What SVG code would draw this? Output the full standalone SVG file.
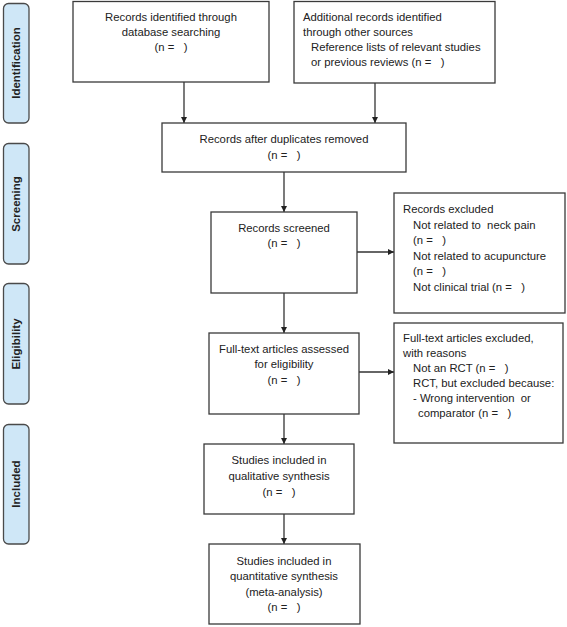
<svg xmlns="http://www.w3.org/2000/svg" width="567" height="627" viewBox="0 0 567 627">
<style>
.box{fill:#fff;stroke:#3a3a3a;stroke-width:1.3}
.phase{fill:#cfe7f7;stroke:#4a4a4a;stroke-width:1.3}
.t{font-family:"Liberation Sans",Arial,sans-serif;font-size:11.3px;fill:#222}
.c{text-anchor:middle}
.p{font-family:"Liberation Sans",Arial,sans-serif;font-size:11.5px;font-weight:bold;fill:#222;text-anchor:middle}
.ln{stroke:#333;stroke-width:1.3;fill:none;marker-end:url(#ah)}
</style>
<defs>
<marker id="ah" viewBox="0 0 10 10" refX="10" refY="5" markerWidth="6" markerHeight="6" markerUnits="userSpaceOnUse" orient="auto">
<path d="M0,0 L10,5 L0,10 z" fill="#222"/>
</marker>
</defs>
<rect width="567" height="627" fill="#fff"/>
<g id="phase-identification"><rect class="phase" x="3.5" y="3.5" width="25.5" height="119.5" rx="5"/><text class="p" transform="translate(20,63) rotate(-90)">Identification</text></g>
<g id="phase-screening"><rect class="phase" x="3.5" y="143.5" width="25.5" height="120.5" rx="5"/><text class="p" transform="translate(20,204) rotate(-90)">Screening</text></g>
<g id="phase-eligibility"><rect class="phase" x="3.5" y="283.5" width="25.5" height="120.5" rx="5"/><text class="p" transform="translate(20,344) rotate(-90)">Eligibility</text></g>
<g id="phase-included"><rect class="phase" x="3.5" y="424.5" width="25.5" height="119.5" rx="5"/><text class="p" transform="translate(20,484) rotate(-90)">Included</text></g>

<g id="connectors">
<line class="ln" x1="184" y1="82" x2="184" y2="123"/>
<line class="ln" x1="375" y1="83" x2="375" y2="123"/>
<line class="ln" x1="284" y1="172" x2="284" y2="212"/>
<line class="ln" x1="357" y1="252" x2="394" y2="252"/>
<line class="ln" x1="284" y1="293" x2="284" y2="333"/>
<line class="ln" x1="359" y1="372" x2="394" y2="372"/>
<line class="ln" x1="284" y1="414" x2="284" y2="444"/>
<line class="ln" x1="284" y1="514" x2="284" y2="544"/>
</g>

<g id="n1"><rect class="box" x="73" y="1.5" width="196" height="80.5"/>
<text class="t c" x="171" y="21">Records identified through</text>
<text class="t c" x="171" y="36">database searching</text>
<text class="t c" x="171" y="51">(n =&#160;&#160;&#160;)</text></g>

<g id="n2"><rect class="box" x="294" y="1.5" width="201" height="81.5"/>
<text class="t" x="303" y="21">Additional records identified</text>
<text class="t" x="303" y="36">through other sources</text>
<text class="t" x="311" y="51">Reference lists of relevant studies</text>
<text class="t" x="311" y="66">or previous reviews (n =&#160;&#160;&#160;)</text></g>

<g id="n3"><rect class="box" x="162" y="123" width="244" height="49"/>
<text class="t c" x="284" y="143">Records after duplicates removed</text>
<text class="t c" x="284" y="159">(n =&#160;&#160;&#160;)</text></g>

<g id="n4"><rect class="box" x="211" y="212" width="146" height="81"/>
<text class="t c" x="284" y="232">Records screened</text>
<text class="t c" x="284" y="247">(n =&#160;&#160;&#160;)</text></g>

<g id="n5"><rect class="box" x="394" y="193" width="171" height="120"/>
<text class="t" x="403" y="213">Records excluded</text>
<text class="t" x="413" y="229">Not related to&#160; neck pain</text>
<text class="t" x="413" y="244">(n =&#160;&#160;&#160;)</text>
<text class="t" x="413" y="260">Not related to acupuncture</text>
<text class="t" x="413" y="275">(n =&#160;&#160;&#160;)</text>
<text class="t" x="413" y="291">Not clinical trial (n =&#160;&#160;&#160;)</text></g>

<g id="n6"><rect class="box" x="209" y="333" width="150" height="81"/>
<text class="t c" x="284" y="353">Full-text articles assessed</text>
<text class="t c" x="284" y="368">for eligibility</text>
<text class="t c" x="284" y="384">(n =&#160;&#160;&#160;)</text></g>

<g id="n7"><rect class="box" x="394" y="323" width="169" height="120"/>
<text class="t" x="403" y="342">Full-text articles excluded,</text>
<text class="t" x="403" y="357">with reasons</text>
<text class="t" x="413" y="372">Not an RCT (n =&#160;&#160;&#160;)</text>
<text class="t" x="413" y="387">RCT, but excluded because:</text>
<text class="t" x="413" y="402">- Wrong intervention&#160; or</text>
<text class="t" x="418" y="417">comparator (n =&#160;&#160;&#160;)</text></g>

<g id="n8"><rect class="box" x="204" y="444" width="150" height="70"/>
<text class="t c" x="279" y="464">Studies included in</text>
<text class="t c" x="279" y="480">qualitative synthesis</text>
<text class="t c" x="279" y="496">(n =&#160;&#160;&#160;)</text></g>

<g id="n9"><rect class="box" x="209" y="544" width="151" height="80"/>
<text class="t c" x="284" y="565">Studies included in</text>
<text class="t c" x="284" y="580">quantitative synthesis</text>
<text class="t c" x="284" y="596">(meta-analysis)</text>
<text class="t c" x="284" y="611">(n =&#160;&#160;&#160;)</text></g>
</svg>
